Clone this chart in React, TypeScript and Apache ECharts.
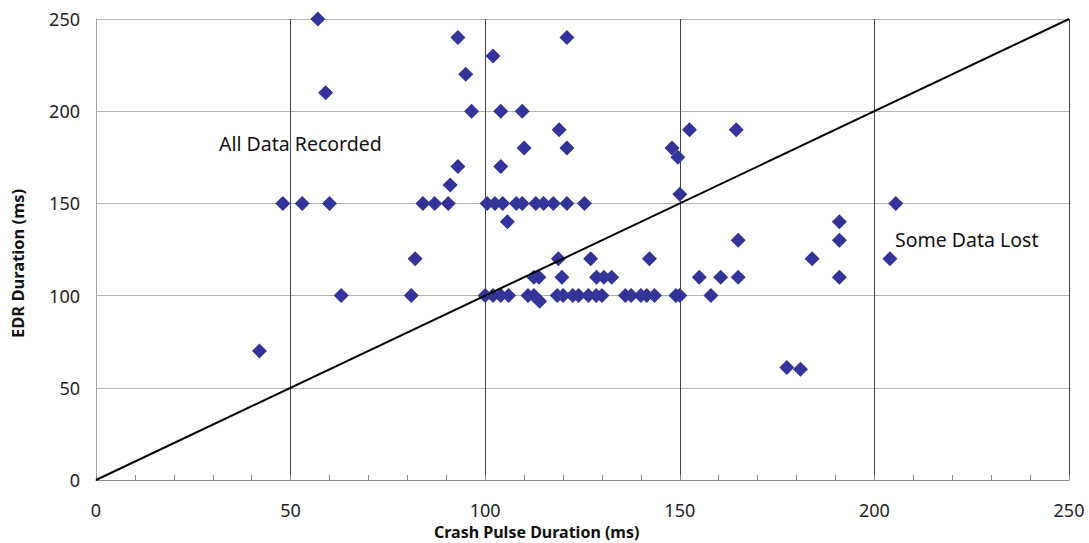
import React, { useEffect, useRef } from "react";
import * as echarts from "echarts";

// Crash pulse duration (ms) vs. EDR recording duration (ms)
const pulseMs: number[] = [
  42, 48, 53, 60, 57, 59, 63, 81, 82, 84, 87, 90.5, 91, 93, 93, 95, 96.5,
  102, 121, 104, 109.5, 119, 110, 121, 104, 148, 149.5, 152.5, 164.5, 150,
  100.5, 102.5, 104.5, 108, 109.5, 113, 115, 117.5, 121, 125.5, 105.7,
  100, 102, 104, 106, 111, 112.5, 114, 118.5, 120, 122.5, 124, 126.5, 128.5,
  130, 136, 137.5, 140, 141.5, 143.5, 149, 150, 158,
  112.5, 113.8, 119.7, 128.6, 130.5, 132.5, 155, 160.5, 165, 191,
  118.8, 127.1, 142.2, 184, 204,
  165, 191, 191, 205.5, 177.5, 181,
];
const edrMs: number[] = [
  70, 150, 150, 150, 250, 210, 100, 100, 120, 150, 150, 150, 160, 170, 240, 220, 200,
  230, 240, 200, 200, 190, 180, 180, 170, 180, 175, 190, 190, 155,
  150, 150, 150, 150, 150, 150, 150, 150, 150, 150, 140,
  100, 100, 100, 100, 100, 100, 97, 100, 100, 100, 100, 100, 100,
  100, 100, 100, 100, 100, 100, 100, 100, 100,
  110, 110, 110, 110, 110, 110, 110, 110, 110, 110,
  120, 120, 120, 120, 120,
  130, 130, 140, 150, 61, 60,
];

// Equal-duration reference line
const diagonal: number[][] = [
  [0, 0],
  [250, 250],
];

const xTitle = "Crash Pulse Duration (ms)";
const yTitle = "EDR Duration (ms)";
const regionAbove = "All Data Recorded";
const regionBelow = "Some Data Lost";

const FONT = "'Noto Sans', sans-serif";

export default function App() {
  const ref = useRef<HTMLDivElement>(null);

  useEffect(() => {
    if (!ref.current) return;
    const chart = echarts.init(ref.current, undefined, { renderer: "svg" });
    const points = pulseMs.map((x, i) => [x, edrMs[i]]);

    chart.setOption({
      animation: false,
      backgroundColor: "#ffffff",
      textStyle: { fontFamily: FONT },
      grid: { left: 96, right: 20, top: 19, bottom: 63, containLabel: false },
      xAxis: {
        type: "value",
        min: 0,
        max: 250,
        interval: 50,
        axisLine: { show: true, onZero: false, lineStyle: { color: "#8c8c8c", width: 1 } },
        axisTick: { show: true, inside: true, length: 5, lineStyle: { color: "#8c8c8c" } },
        minorTick: { show: true, splitNumber: 5, length: 5, lineStyle: { color: "#8c8c8c" } },
        axisLabel: { color: "#222", fontSize: 18, lineHeight: 18, margin: 21, fontFamily: FONT },
        splitLine: { show: true, lineStyle: { color: "#444", width: 1 } },
      },
      yAxis: {
        type: "value",
        min: 0,
        max: 250,
        interval: 50,
        axisLine: { show: true, onZero: false, lineStyle: { color: "#a6a6a6", width: 1 } },
        axisTick: { show: false },
        axisLabel: { color: "#222", fontSize: 18, margin: 16, fontFamily: FONT },
        splitLine: { show: true, lineStyle: { color: "#b4b4b4", width: 1 } },
      },
      graphic: [
        {
          type: "text",
          left: 434,
          top: 524,
          style: {
            text: xTitle,
            fontSize: 16,
            lineHeight: 16,
            fontWeight: "bold",
            fill: "#111",
            fontFamily: FONT,
          },
        },
        {
          type: "text",
          x: 9,
          y: 338,
          rotation: Math.PI / 2,
          style: { text: yTitle, fontSize: 16.5, fontWeight: "bold", fill: "#111", fontFamily: FONT },
        },
        {
          type: "text",
          left: 219,
          top: 133,
          style: { text: regionAbove, fontSize: 19.5, fill: "#111", fontFamily: FONT },
        },
        {
          type: "text",
          left: 895,
          top: 229,
          style: { text: regionBelow, fontSize: 19.5, fill: "#111", fontFamily: FONT },
        },
      ],
      series: [
        {
          type: "line",
          data: diagonal,
          symbol: "none",
          lineStyle: { color: "#000", width: 2 },
          silent: true,
        },
        {
          type: "scatter",
          data: points,
          symbol: "diamond",
          symbolSize: 15,
          itemStyle: { color: "#333399", opacity: 1 },
        },
      ],
    });

    return () => chart.dispose();
  }, []);

  return <div ref={ref} style={{ width: 1089, height: 543, position: "absolute", left: 0, top: 0 }} />;
}
